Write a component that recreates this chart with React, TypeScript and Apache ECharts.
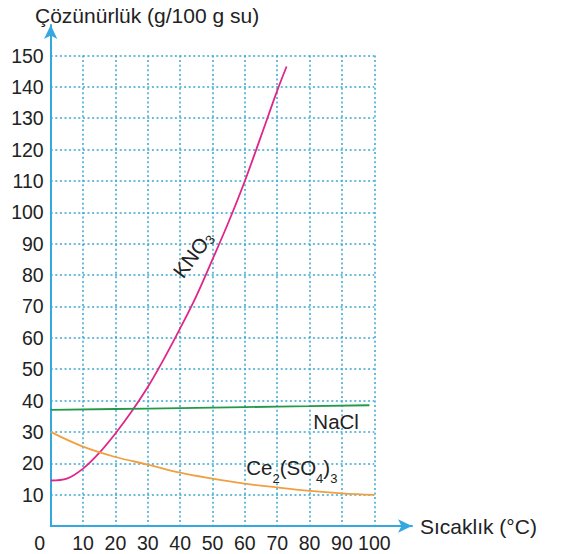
import React, { useEffect, useRef } from "react";
import * as echarts from "echarts";

const FONT = "Liberation Sans, Arial, sans-serif";

const xTicks = [0, 10, 20, 30, 40, 50, 60, 70, 80, 90, 100];
const yTicks = [0, 10, 20, 30, 40, 50, 60, 70, 80, 90, 100, 110, 120, 130, 140, 150];

const kno3: [number, number][] = [
  [0, 14.5], [5, 15.1], [10, 18.3], [15, 23.3], [20, 29.5], [25, 36.5],
  [30, 44.3], [35, 53.3], [40, 63], [45, 73.3], [50, 85], [55, 97],
  [60, 110], [65, 124.3], [70, 138.8], [72.9, 146.5],
];
const nacl: [number, number][] = [
  [0, 37], [20, 37.3], [40, 37.6], [60, 37.9], [80, 38.2], [98.5, 38.5],
];
const ce2so43: [number, number][] = [
  [0, 30], [10, 25.3], [20, 22], [30, 19.6], [40, 17], [50, 15.1], [60, 13.5],
  [70, 12.3], [80, 11.2], [90, 10.4], [100, 9.9],
];

const kno3LabelAt: [number, number] = [44.0, 86.5];
const naclLabelAt: [number, number] = [88.2, 33];
const ceLabelAt: [number, number] = [74.5, 18.6];

const titleText = "Çözünürlük (g/100 g su)";
const xName = "Sıcaklık (°C)";

const AXIS = "#34a8df";
const GRID = "#3aa6cf";
const TXT = "#222222";

const subRich = {
  m: { fontSize: 20.5, lineHeight: 22, verticalAlign: "top", color: TXT, fontFamily: FONT },
  s: { fontSize: 13, lineHeight: 13, verticalAlign: "top", padding: [15, 0, 0, 0], color: TXT, fontFamily: FONT },
  k: { fontSize: 13, lineHeight: 13, verticalAlign: "top", padding: [9, 0, 0, 0], color: TXT, fontFamily: FONT },
};

function labelPoint(coord: [number, number], text: string, rotate = 0) {
  return {
    symbol: "circle",
    symbolSize: 0,
    silent: true,
    itemStyle: { color: "transparent" },
    label: {
      show: true,
      position: "inside",
      rotate,
      formatter: text,
      rich: subRich,
    },
    data: [{ coord }],
  };
}

export default function App() {
  const ref = useRef<HTMLDivElement>(null);
  useEffect(() => {
    if (!ref.current) return;
    const chart = echarts.init(ref.current, undefined, { renderer: "svg" });
    const gridLeft = 50.7;
    const gridRight = 565 - 374.3;
    const gridTop = 55.5;
    const gridBottom = 554 - 526;
    const splitStyle = { color: GRID, width: 1.5, type: [2, 2.6] };
    chart.setOption({
      animation: false,
      backgroundColor: "#ffffff",
      textStyle: { fontFamily: FONT },
      title: {
        text: titleText,
        left: 30,
        top: 0,
        textStyle: { fontSize: 21, fontWeight: "normal", color: TXT, fontFamily: FONT },
      },
      grid: [
        { left: gridLeft, right: gridRight, top: gridTop, bottom: gridBottom },
        { left: gridLeft, right: 153, top: 25, bottom: gridBottom },
      ],
      xAxis: [
        {
          type: "value",
          gridIndex: 0,
          min: 0,
          max: 100,
          interval: 10,
          axisLine: { show: false },
          axisTick: { show: false },
          axisLabel: {
            show: true,
            margin: 7,
            fontSize: 19.5,
            color: TXT,
            fontFamily: FONT,
            customValues: xTicks,
            formatter: (v: number) => (v === 0 ? "{z|0}" : String(v)),
            rich: { z: { fontSize: 19.5, color: TXT, fontFamily: FONT, padding: [0, 22, 0, 0] } },
          },
          splitLine: { show: true, lineStyle: splitStyle },
        },
        {
          type: "value",
          gridIndex: 1,
          min: 0,
          max: 100,
          axisLine: {
            show: true,
            onZero: false,
            symbol: ["none", "arrow"],
            symbolSize: [10, 14],
            lineStyle: { color: AXIS, width: 2 },
          },
          axisTick: { show: false },
          axisLabel: { show: false },
          splitLine: { show: false },
          name: xName,
          nameLocation: "end",
          nameGap: 8,
          nameTextStyle: { fontSize: 21, color: TXT, fontFamily: FONT },
        },
      ],
      yAxis: [
        {
          type: "value",
          gridIndex: 0,
          min: 0,
          max: 150,
          interval: 10,
          axisLine: { show: false },
          axisTick: { show: false },
          axisLabel: {
            show: true,
            margin: 7,
            fontSize: 19.5,
            color: TXT,
            fontFamily: FONT,
            customValues: yTicks,
            formatter: (v: number) => (v === 0 ? "" : String(v)),
          },
          splitLine: { show: true, lineStyle: splitStyle },
        },
        {
          type: "value",
          gridIndex: 1,
          min: 0,
          max: 100,
          axisLine: {
            show: true,
            onZero: false,
            symbol: ["none", "arrow"],
            symbolSize: [10, 14],
            lineStyle: { color: AXIS, width: 2 },
          },
          axisTick: { show: false },
          axisLabel: { show: false },
          splitLine: { show: false },
        },
      ],
      series: [
        {
          name: "KNO3",
          type: "line",
          xAxisIndex: 0,
          yAxisIndex: 0,
          data: kno3,
          smooth: 0.35,
          showSymbol: false,
          lineStyle: { color: "#e0268a", width: 1.8 },
          z: 3,
          markPoint: labelPoint(kno3LabelAt, "{m|KNO}{k|3}", 53),
        },
        {
          name: "NaCl",
          type: "line",
          xAxisIndex: 0,
          yAxisIndex: 0,
          data: nacl,
          smooth: true,
          showSymbol: false,
          lineStyle: { color: "#23994a", width: 1.8 },
          z: 3,
          markPoint: labelPoint(naclLabelAt, "{m|NaCl}"),
        },
        {
          name: "Ce2(SO4)3",
          type: "line",
          xAxisIndex: 0,
          yAxisIndex: 0,
          data: ce2so43,
          smooth: 0.4,
          showSymbol: false,
          lineStyle: { color: "#f0a040", width: 1.8 },
          z: 3,
          markPoint: labelPoint(ceLabelAt, "{m|Ce}{s|2}{m|(SO}{s|4}{m|)}{s|3}"),
        },
      ],
    });
    return () => chart.dispose();
  }, []);
  return (
    <div
      ref={ref}
      style={{ position: "fixed", left: 0, top: 0, width: 565, height: 554, background: "#fff" }}
    />
  );
}
